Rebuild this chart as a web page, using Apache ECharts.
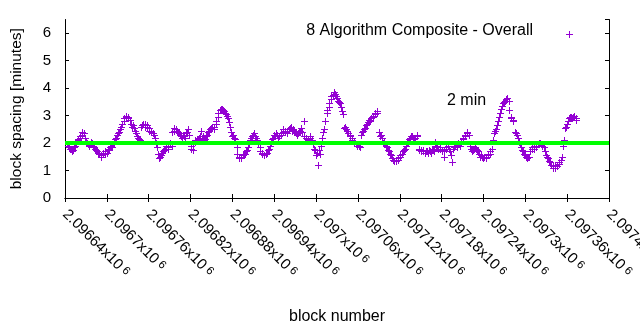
<!DOCTYPE html>
<html><head><meta charset="utf-8">
<script src="https://cdn.jsdelivr.net/npm/echarts@6/dist/echarts.min.js"></script>
<style>html,body{margin:0;padding:0;background:#fff}#c{width:640px;height:330px}</style>
</head><body><div id="c"></div>
<script>
// ---- data ----
const firstBlock = 2096643;   // block number of first plotted point of spacingA
const blockStep = 3;          // consecutive points of each array are this many blocks apart
// readings at blocks firstBlock + 3*i
const spacingA = [
  1.95,1.85,1.8,1.75,1.9,2.1,2.2,2.3,2.35,2.05,
  1.95,1.95,2.0,1.85,1.75,1.65,1.55,1.6,1.7,1.65,
  1.8,1.9,1.95,2.15,2.3,2.4,2.6,2.8,2.95,2.95,
  2.85,2.6,2.55,2.35,2.2,2.1,2.65,2.7,2.65,2.55,
  2.45,2.35,2.2,1.85,1.45,1.55,1.7,1.8,1.85,1.95,
  1.9,2.45,2.5,2.4,2.3,2.2,2.25,2.35,2.5,1.9,
  1.75,2.05,2.1,2.2,2.45,2.25,2.15,2.3,2.45,2.55,
  2.5,2.7,2.95,3.2,3.25,3.15,3.05,2.9,2.6,2.25,
  2.2,1.85,1.5,1.45,1.55,1.6,1.75,1.95,2.2,2.3,
  2.25,2.1,1.85,1.65,1.55,1.6,1.75,1.9,2.15,2.3,
  2.35,2.2,2.3,2.4,2.45,2.35,2.5,2.6,2.5,2.4,
  2.3,2.4,2.55,2.8,2.2,2.15,2.25,2.1,1.8,1.55,
  1.2,1.6,2.2,2.5,3.1,3.3,3.6,3.75,3.8,3.65,
  3.5,3.3,3.05,2.6,2.45,2.3,2.2,2.05,1.95,1.95,
  1.85,2.4,2.5,2.65,2.75,2.8,2.95,3.05,3.15,2.4,
  2.3,2.0,1.95,1.85,1.7,1.55,1.4,1.35,1.4,1.5,
  1.6,1.75,1.9,2.05,2.2,2.25,2.15,2.3,1.8,1.75,
  1.7,1.65,1.7,1.75,1.65,1.75,2.05,1.85,1.8,1.7,
  1.5,1.8,1.9,1.7,1.3,1.85,1.95,2.0,1.9,2.15,
  2.25,2.35,2.3,1.8,1.75,1.85,1.75,1.6,1.55,1.45,
  1.5,1.55,1.6,1.8,2.35,2.5,2.8,3.1,3.35,3.5,
  3.6,3.55,2.95,2.85,2.4,2.3,2.05,1.85,1.7,1.55,
  1.45,1.5,1.8,1.9,1.85,1.95,2.0,1.9,1.85,1.55,
  1.45,1.3,1.15,1.1,1.15,1.25,1.4,1.9,2.55,2.7,
  2.9,2.95,2.95,2.9
];
// readings at blocks firstBlock + 1 + 3*i
const spacingB = [
  1.9,1.8,1.7,1.85,2.0,2.15,2.25,2.4,2.2,2.0,
  1.9,2.05,1.9,1.8,1.7,1.6,1.5,1.65,1.6,1.75,
  1.85,1.85,2.05,2.2,2.35,2.5,2.7,2.9,3.0,2.9,
  2.7,2.65,2.45,2.25,2.15,2.6,2.7,2.6,2.6,2.45,
  2.4,2.3,2.0,1.6,1.5,1.65,1.75,1.9,1.8,2.0,
  2.4,2.55,2.45,2.35,2.25,2.3,2.2,2.4,2.3,1.8,
  2.0,2.1,2.15,2.25,2.2,2.1,2.25,2.4,2.5,2.6,
  2.6,2.8,3.1,3.25,3.2,3.1,3.0,2.75,2.4,2.3,
  2.15,1.6,1.45,1.5,1.6,1.7,1.85,2.1,2.25,2.35,
  2.2,1.95,1.7,1.6,1.55,1.65,1.8,2.05,2.2,2.25,
  2.3,2.25,2.35,2.5,2.4,2.45,2.55,2.45,2.45,2.35,
  2.35,2.45,2.4,2.25,2.2,2.1,2.2,1.95,1.75,1.65,
  1.75,1.9,2.4,2.8,3.2,3.45,3.7,3.85,3.7,3.55,
  3.45,3.15,2.55,2.5,2.35,2.25,2.1,2.0,1.9,1.9,
  2.3,2.45,2.55,2.7,2.85,2.9,3.0,3.1,3.1,2.25,
  2.2,2.05,1.9,1.75,1.6,1.45,1.35,1.4,1.45,1.55,
  1.7,1.8,2.0,2.15,2.25,2.2,2.2,2.25,1.75,1.7,
  1.75,1.7,1.65,1.7,1.8,1.7,1.9,1.8,1.85,1.75,
  1.75,1.85,1.8,1.55,1.8,1.9,1.85,1.95,2.05,2.2,
  2.3,2.4,1.9,1.7,1.8,1.8,1.7,1.5,1.5,1.5,
  1.45,1.6,1.7,2.1,2.45,2.65,2.95,3.25,3.45,3.55,
  3.65,3.2,2.9,2.8,2.35,2.2,1.95,1.75,1.6,1.5,
  1.5,1.7,1.85,1.8,1.9,2.0,1.95,1.95,1.7,1.5,
  1.35,1.2,1.1,1.2,1.15,1.3,1.5,2.1,2.6,2.8,
  2.95,2.9,3.0,2.85
];
const refLevel = 2;
const seriesName = '8 Algorithm Composite - Overall';
const refName = '2 min';
const xTicks = [2096640,2096700,2096760,2096820,2096880,2096940,2097000,2097060,2097120,2097180,2097240,2097300,2097360,2097420];
const xTickLabels = ['2.09664','2.0967','2.09676','2.09682','2.09688','2.09694','2.097','2.09706','2.09712','2.09718','2.09724','2.0973','2.09736','2.09742'];
const yTicks = [0,1,2,3,4,5,6];
const yTop = 6.5;
const xTitle = 'block number';
const yTitle = 'block spacing [minutes]';

// ---- chart ----
const points = spacingA.map((v, i) => [firstBlock + i * blockStep, v])
  .concat(spacingB.map((v, i) => [firstBlock + 1 + i * blockStep, v]));
const xMin = xTicks[0], xMax = xTicks[xTicks.length - 1];
const xInterval = xTicks[1] - xTicks[0];
const FONT = 'Liberation Sans';
const PURPLE = '#9400d3';

const chart = echarts.init(document.getElementById('c'), null, {renderer: 'canvas'});
const axisCommon = {
  axisLine: {show: true, lineStyle: {color: '#000', width: 1}},
  axisTick: {show: true, inside: true, length: 4, lineStyle: {color: '#000', width: 1}},
  splitLine: {show: false}
};
chart.setOption({
  animation: false,
  backgroundColor: '#fff',
  grid: {left: 65, right: 31, top: 19.5, bottom: 132, containLabel: false, outerBoundsMode: 'none'},
  xAxis: [
    Object.assign({
      type: 'value', min: xMin, max: xMax, interval: xInterval, position: 'bottom',
      name: xTitle, nameLocation: 'middle', nameGap: 111,
      nameTextStyle: {fontFamily: FONT, fontSize: 16, color: '#000'},
      axisLabel: {
        show: true, rotate: -45, margin: 14, showMinLabel: true, showMaxLabel: true,
        hideOverlap: false,
        formatter: v => {
          const i = xTicks.indexOf(v);
          return i < 0 ? '' : '{a|' + xTickLabels[i] + 'x10}{b| 6}';
        },
        rich: {
          a: {fontFamily: FONT, fontSize: 15, color: '#000'},
          b: {fontFamily: FONT, fontSize: 11.5, color: '#000', verticalAlign: 'top'}
        }
      }
    }, axisCommon),
    Object.assign({
      type: 'value', min: xMin, max: xMax, interval: xInterval, position: 'top',
      axisLabel: {show: false}
    }, axisCommon)
  ],
  yAxis: [
    Object.assign({
      type: 'value', min: yTicks[0], max: yTop, interval: yTicks[1] - yTicks[0], position: 'left',
      name: yTitle, nameLocation: 'middle', nameGap: 40, nameRotate: 90,
      nameTextStyle: {fontFamily: FONT, fontSize: 15.5, color: '#000'},
      axisLabel: {show: true, margin: 14, fontFamily: FONT, fontSize: 15, color: '#000',
        showMaxLabel: false, formatter: v => (yTicks.indexOf(v) >= 0 ? String(v) : '')}
    }, axisCommon),
    Object.assign({
      type: 'value', min: yTicks[0], max: yTop, interval: yTicks[1] - yTicks[0], position: 'right',
      axisLabel: {show: false}
    }, axisCommon)
  ],
  series: [
    {
      name: seriesName,
      type: 'custom',
      coordinateSystem: 'cartesian2d',
      xAxisIndex: 0, yAxisIndex: 0,
      clip: true,
      z: 2,
      data: points,
      renderItem: (params, api) => {
        const p = api.coord([api.value(0), api.value(1)]);
        const x = Math.round(p[0]) + 0.5, y = Math.round(p[1]) + 0.5;
        const st = {stroke: PURPLE, lineWidth: 1};
        return {
          type: 'group',
          children: [
            {type: 'line', shape: {x1: x - 3.5, y1: y, x2: x + 3.5, y2: y}, style: st},
            {type: 'line', shape: {x1: x, y1: y - 3.5, x2: x, y2: y + 3.5}, style: st}
          ]
        };
      }
    },
    {
      name: refName,
      type: 'line',
      xAxisIndex: 0, yAxisIndex: 0,
      z: 5,
      symbol: 'none',
      silent: true,
      data: [[xMin, refLevel], [xMax, refLevel]],
      lineStyle: {color: '#00ff00', width: 4}
    }
  ],
  graphic: [
    {type: 'text', right: 640 - 533, top: 23,
      style: {text: seriesName, fontFamily: FONT, fontSize: 16, fill: '#000', textAlign: 'right'}},
    {type: 'group', left: 563.5, top: 28.5, children: [
      {type: 'line', shape: {x1: 0, y1: 3.5, x2: 7, y2: 3.5}, style: {stroke: PURPLE, lineWidth: 1}},
      {type: 'line', shape: {x1: 3.5, y1: 0, x2: 3.5, y2: 7}, style: {stroke: PURPLE, lineWidth: 1}}
    ]},
    {type: 'text', left: 447, top: 93,
      style: {text: refName, fontFamily: FONT, fontSize: 16, fill: '#000'}}
  ]
});
</script></body></html>
